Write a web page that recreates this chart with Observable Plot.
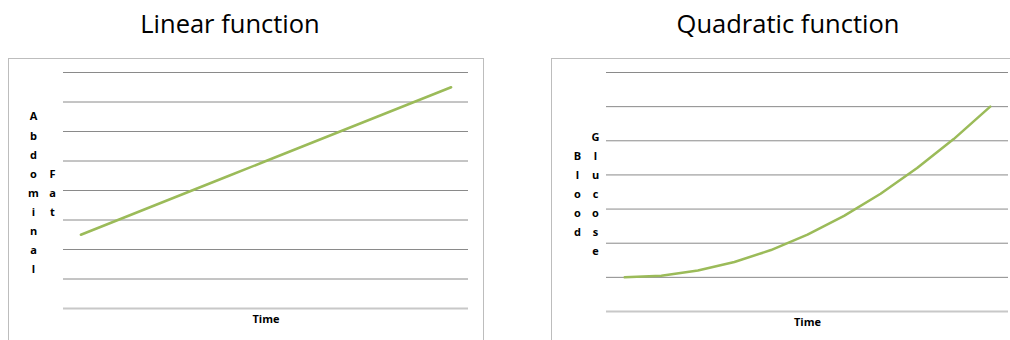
<!DOCTYPE html>
<html>
<head>
<meta charset="utf-8">
<script src="https://cdn.jsdelivr.net/npm/d3@7"></script>
<script src="https://cdn.jsdelivr.net/npm/@observablehq/plot@0.6"></script>
<style>
  html, body { margin: 0; padding: 0; background: #fff; width: 1010px; height: 340px; overflow: hidden; }
  #root { position: relative; width: 1010px; height: 340px; overflow: hidden; }
  .title { position: absolute; font-family: "Open Sans", sans-serif; font-size: 25.5px; line-height: normal; color: #000; white-space: nowrap; transform: translateX(-50%); top: 6px; }
  .box { position: absolute; border: 1px solid #bdbdbd; background: #fff; }
  .plotwrap { position: absolute; }
  .plotwrap svg { display: block; background: transparent; }
</style>
</head>
<body>
<div id="root">
  <div class="title" style="left:230px;">Linear function</div>
  <div class="title" style="left:788px;">Quadratic function</div>
  <div class="box" style="left:8px; top:58px; width:474px; height:300px;"></div>
  <div class="box" style="left:551px; top:58px; width:470px; height:300px;"></div>
  <div class="plotwrap" id="left" style="left:9px; top:59px;"></div>
  <div class="plotwrap" id="right" style="left:552px; top:59px;"></div>
</div>
<script>
// ---- data ----
const timePoints = [1, 2, 3, 4, 5, 6, 7, 8, 9, 10, 11];
const abdominalFat = [2.5, 3, 3.5, 4, 4.5, 5, 5.5, 6, 6.5, 7, 7.5];
const bloodGlucose = [1, 1.05, 1.2, 1.45, 1.8, 2.25, 2.8, 3.45, 4.2, 5.05, 6];
const linearYTicks = [0, 1, 2, 3, 4, 5, 6, 7, 8];
const quadYTicks = [0, 1, 2, 3, 4, 5, 6, 7];
const xLabel = "Time";
const linearYLabel = ["Abdominal", "Fat"];
const quadYLabel = ["Blood", "Glucose"];

const GREEN = "#9bbb59";
const FONT = "'Open Sans', sans-serif";

function stacked(word) { return word.split("").join("\n"); }

function makeChart({values, ticks, yLabels, labelDx, width, height, margins, padding}) {
  const rows = timePoints.map((t, i) => ({t, v: values[i]}));
  const yMax = ticks[ticks.length - 1];
  return Plot.plot({
    width, height,
    marginLeft: margins.left, marginRight: margins.right,
    marginTop: margins.top, marginBottom: margins.bottom,
    style: {fontFamily: FONT, background: "transparent", overflow: "visible"},
    x: {type: "point", domain: timePoints, padding, round: false, axis: null},
    y: {type: "linear", domain: [0, yMax], axis: null},
    marks: [
      Plot.ruleY(ticks.filter(d => d !== 0), {stroke: "#8a8a8a", strokeWidth: 1}),
      Plot.ruleY([0], {stroke: "#c8c8c8", strokeWidth: 2}),
      Plot.line(rows, {x: "t", y: "v", stroke: GREEN, strokeWidth: 2.5, curve: "linear"}),
      ...yLabels.map((w, k) => Plot.text([w], {
        text: d => stacked(d), frameAnchor: "left", dx: labelDx[k],
        textAnchor: "middle", lineAnchor: "middle", lineHeight: 1.73,
        fontSize: 11, fontWeight: "bold", fill: "#000"
      })),
      Plot.text([xLabel], {
        text: d => d, frameAnchor: "bottom", dy: 11, lineAnchor: "middle",
        textAnchor: "middle", fontSize: 11, fontWeight: "bold", fill: "#000"
      })
    ]
  });
}

document.getElementById("left").appendChild(makeChart({
  values: abdominalFat, ticks: linearYTicks, yLabels: linearYLabel, labelDx: [-30, -11],
  width: 473, height: 280, margins: {left: 54, right: 14, top: 13, bottom: 31}, padding: 0.47
}));
document.getElementById("right").appendChild(makeChart({
  values: bloodGlucose, ticks: quadYTicks, yLabels: quadYLabel, labelDx: [-29, -11],
  width: 458, height: 280, margins: {left: 54, right: 2, top: 13, bottom: 28}, padding: 0.5
}));
</script>
</body>
</html>
